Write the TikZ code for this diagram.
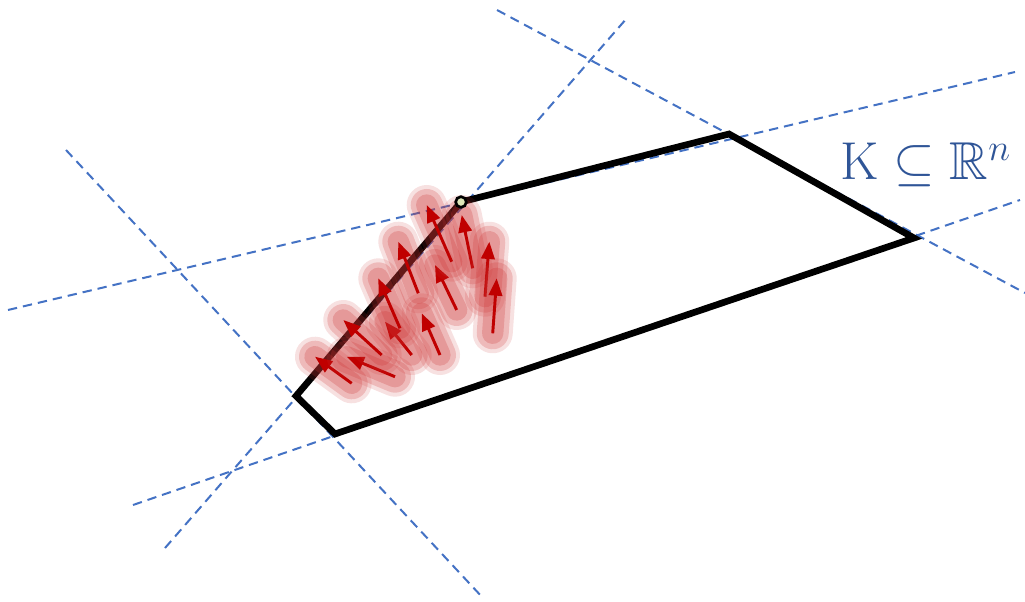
\RequirePackage{fix-cm}
\documentclass[tikz,border=0pt]{standalone}
\usepackage{amssymb}
\usetikzlibrary{arrows.meta}
\definecolor{dashblue}{HTML}{4472C4}
\definecolor{arrred}{HTML}{C00000}
\definecolor{halored}{HTML}{CC3333}
\definecolor{labelblue}{HTML}{2F5597}
\definecolor{dotfill}{HTML}{DDE6B8}
\tikzset{
  guide/.style={draw=dashblue, line width=1.5pt, dash pattern=on 7pt off 4.5pt},
  edgeline/.style={draw=black, line width=5pt, line join=miter},
  vec/.style={
    preaction={draw=halored, draw opacity=0.15, line width=30pt, line cap=round, -},
    preaction={draw=halored, draw opacity=0.22, line width=24pt, line cap=round, -},
    preaction={draw=halored, draw opacity=0.25, line width=16pt, line cap=round, -},
    draw=arrred, line width=2.2pt, -{Triangle[length=13pt,width=10pt]}},
  vertexdot/.style={circle, draw=black, line width=2pt, fill=dotfill, inner sep=0pt, minimum size=8pt}
}
\begin{document}
\begin{tikzpicture}[x=0.75pt,y=-0.75pt]
\useasboundingbox (0,0) rectangle (1025,602);
% polygon vertices
\coordinate (A) at (296,396);
\coordinate (B) at (335,434);
\coordinate (C) at (914,238);
\coordinate (D) at (729,134);
\coordinate (E) at (461,202);
% guide line end points
\coordinate (l1a) at (8,310);   \coordinate (l1b) at (1015,72);
\coordinate (l2a) at (165,548); \coordinate (l2b) at (627,18);
\coordinate (l3a) at (497,10);  \coordinate (l3b) at (1025,293);
\coordinate (l4a) at (133,505); \coordinate (l4b) at (1020,200);
\coordinate (l5a) at (66,150);  \coordinate (l5b) at (483,598);
\draw[guide] (l1a) -- (l1b);
\draw[guide] (l2a) -- (l2b);
\draw[guide] (l3a) -- (l3b);
\draw[guide] (l4a) -- (l4b);
\draw[guide] (l5a) -- (l5b);
% polygon
\draw[edgeline] (A) -- (E) -- (D) -- (C) -- (B) -- cycle;
% arrows
\coordinate (t1) at (351.7,383.3);  \coordinate (h1) at (315,356.7);
\coordinate (t2) at (395,376.7);    \coordinate (h2) at (346.7,356.7);
\coordinate (t3) at (381.7,355);    \coordinate (h3) at (343.3,320);
\coordinate (t4) at (411.7,355);    \coordinate (h4) at (385,321.7);
\coordinate (t5) at (440,355);      \coordinate (h5) at (421.7,313.3);
\coordinate (t6) at (400,328.3);    \coordinate (h6) at (378.3,278.3);
\coordinate (t7) at (456.7,310);    \coordinate (h7) at (435,265);
\coordinate (t8) at (418.3,293.3);  \coordinate (h8) at (398.3,241.7);
\coordinate (t9) at (451.7,261.7);  \coordinate (h9) at (426.7,205);
\coordinate (t10) at (472.7,268.3); \coordinate (h10) at (461.7,215);
\coordinate (t11) at (485,296.7);   \coordinate (h11) at (489.3,241.7);
\coordinate (t12) at (492.7,333.3); \coordinate (h12) at (496.7,278.3);
\foreach \i in {1,...,12} {\draw[vec] (t\i) -- (h\i);}
% vertex marker
\node[vertexdot] (vE) at (E) {};
% label
\node[text=labelblue, anchor=base west, inner sep=0pt] (lbl) at (840,180)
  {\fontsize{40}{48}\selectfont $\mathrm{K}\subseteq\mathbb{R}^{n}$};
\end{tikzpicture}
\end{document}
